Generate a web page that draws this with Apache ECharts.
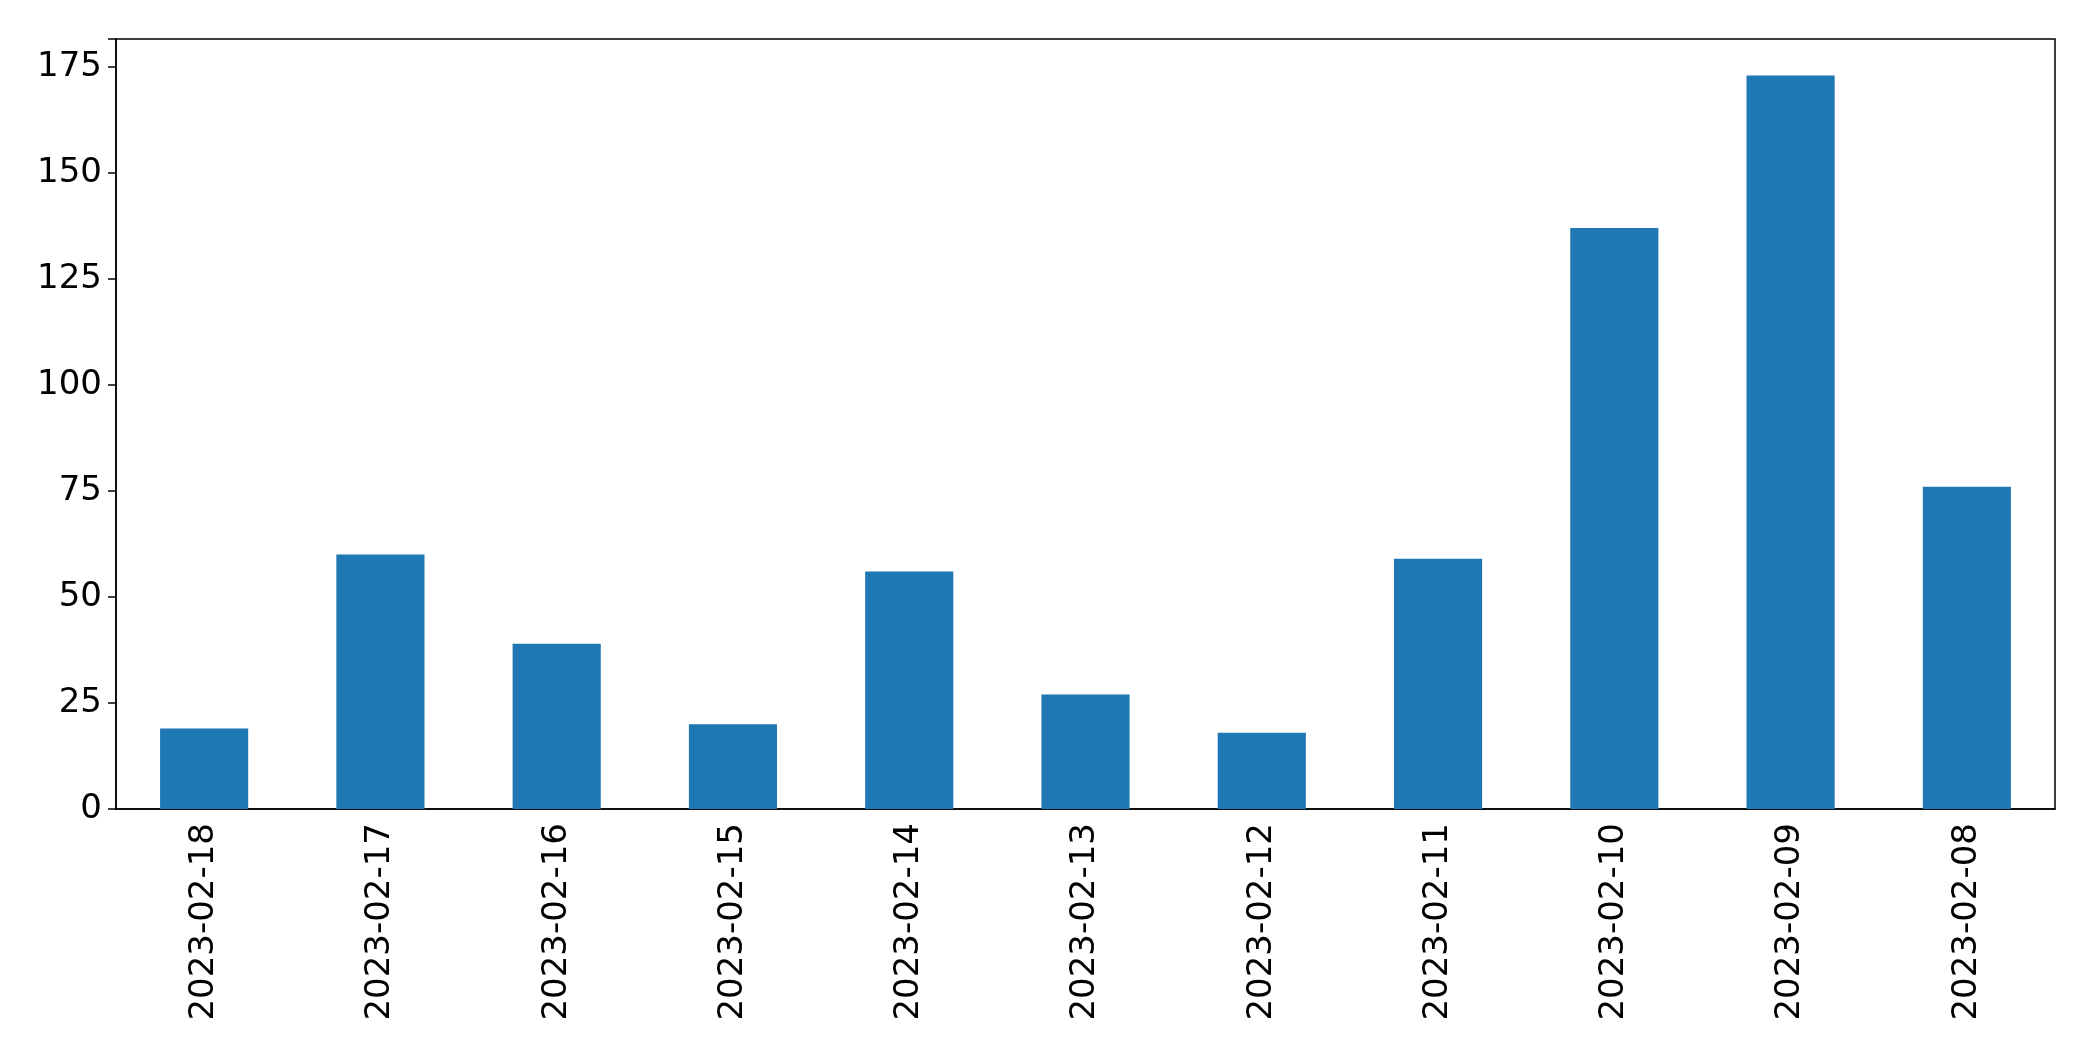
<!DOCTYPE html>
<html><head><meta charset="utf-8">
<script src="https://cdn.jsdelivr.net/npm/echarts@6/dist/echarts.min.js"></script>
<style>html,body{margin:0;padding:0;background:#fff}#c{width:2093px;height:1061px}</style>
</head><body><div id="c"></div>
<script>
const categories = ["2023-02-18","2023-02-17","2023-02-16","2023-02-15","2023-02-14","2023-02-13","2023-02-12","2023-02-11","2023-02-10","2023-02-09","2023-02-08"];
const values = [19, 60, 39, 20, 56, 27, 18, 59, 137, 173, 76];
const yTicks = [0, 25, 50, 75, 100, 125, 150, 175];
const chart = echarts.init(document.getElementById('c'));
const font = {fontFamily: 'DejaVu Sans', fontSize: 34, color: '#000'};
chart.setOption({
  animation: false,
  grid: {left: 116, top: 39, right: 38, bottom: 252, show: true, borderColor: '#000', borderWidth: 1.5},
  xAxis: {type: 'category', data: categories, boundaryGap: true,
    axisLine: {lineStyle: {color: '#000', width: 1.5}},
    axisTick: {alignWithLabel: true, length: 8, lineStyle: {color: '#000', width: 1.5}},
    axisLabel: Object.assign({rotate: 90, margin: 14, interval: 0}, font)},
  yAxis: {type: 'value', min: 0, max: 181.6, interval: 25,
    axisLine: {show: true, lineStyle: {color: '#000', width: 1.5}},
    axisTick: {show: true, length: 8, lineStyle: {color: '#000', width: 1.5}},
    splitLine: {show: false},
    axisLabel: Object.assign({margin: 14, formatter: v => yTicks.includes(v) ? String(v) : ''}, font)},
  series: [{type: 'bar', data: values, barWidth: '50%', itemStyle: {color: '#1f77b4'}}]
});
</script></body></html>
